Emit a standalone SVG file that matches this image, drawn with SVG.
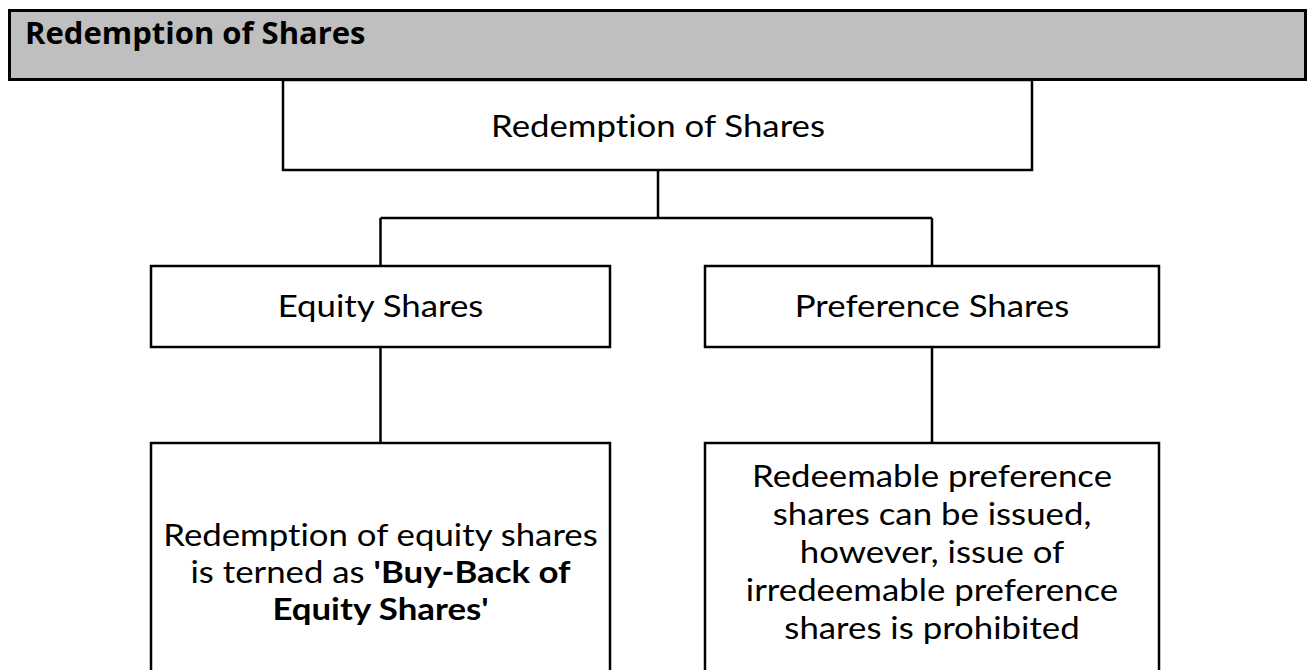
<svg xmlns="http://www.w3.org/2000/svg" width="1307" height="670" viewBox="0 0 1307 670">
  <style>
    .box { fill: #ffffff; stroke: #000000; stroke-width: 2.5; }
    .hdr { fill: #bfbfbf; stroke: #000000; stroke-width: 3; }
    .h { font-family: "Open Sans", "Noto Sans", "Liberation Sans", sans-serif; font-size: 31px; font-weight: bold; fill: #000000; }
    .n { font-family: Lato, "Open Sans", "Liberation Sans", sans-serif; font-size: 30px; fill: #000000; text-anchor: middle; font-variant-ligatures: none; font-feature-settings: "liga" 0, "clig" 0; }
    .b { font-weight: bold; }
    .conn { fill: none; stroke: #000000; stroke-width: 2.5; }
  </style>
  <rect width="1307" height="670" fill="#ffffff"/>
  <g id="header">
    <rect class="hdr" x="9.5" y="10.5" width="1296" height="69"/>
    <text class="h" x="25" y="44">Redemption of Shares</text>
  </g>
  <g id="connectors">
    <path class="conn" d="M658 170 V218 M380.5 218 H932 M380.5 218 V266 M932 218 V266 M380.5 347 V443 M932 347 V443"/>
  </g>
  <g id="root">
    <rect class="box" x="283" y="80" width="749" height="90"/>
    <g transform="translate(658 0) scale(1.16 1)">
      <text class="n" x="0" y="137">Redemption of Shares</text>
    </g>
  </g>
  <g id="equity">
    <rect class="box" x="151" y="266" width="459" height="81"/>
    <g transform="translate(380.5 0) scale(1.16 1)">
      <text class="n" x="0" y="317">Equity Shares</text>
    </g>
  </g>
  <g id="preference">
    <rect class="box" x="705" y="266" width="454" height="81"/>
    <g transform="translate(932 0) scale(1.16 1)">
      <text class="n" x="0" y="317">Preference Shares</text>
    </g>
  </g>
  <g id="equity-note">
    <rect class="box" x="151" y="443" width="459" height="250"/>
    <g transform="translate(380.5 0) scale(1.16 1)">
      <text class="n" x="0" y="546">Redemption of equity shares</text>
      <text class="n" x="0" y="583">is terned as <tspan class="b">'Buy-Back of</tspan></text>
      <text class="n b" x="0" y="620">Equity Shares'</text>
    </g>
  </g>
  <g id="preference-note">
    <rect class="box" x="705" y="443" width="454" height="250"/>
    <g transform="translate(932 0) scale(1.16 1)">
      <text class="n" x="0" y="487">Redeemable preference</text>
      <text class="n" x="0" y="525">shares can be issued,</text>
      <text class="n" x="0" y="563">however, issue of</text>
      <text class="n" x="0" y="601">irredeemable preference</text>
      <text class="n" x="0" y="639">shares is prohibited</text>
    </g>
  </g>
</svg>
